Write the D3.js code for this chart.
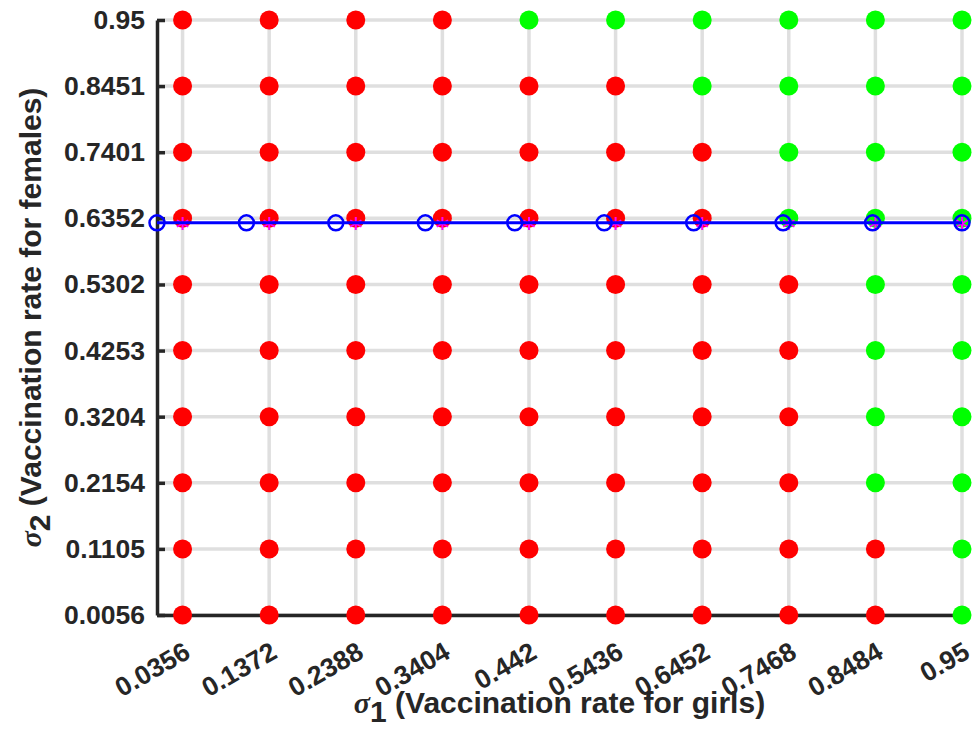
<!DOCTYPE html>
<html>
<head>
<meta charset="utf-8">
<script src="https://cdn.jsdelivr.net/npm/d3@7"></script>
<style>
    body { margin: 0; background: #fff; }
    text { font-family: "Liberation Sans", Arial, sans-serif; font-weight: bold; fill: #262626; }
</style>
</head>
<body>
<script>
//sigma_1 grid values (girls)
var sigma1 = [0.0356, 0.1372, 0.2388, 0.3404, 0.442, 0.5436, 0.6452, 0.7468, 0.8484, 0.95];

//sigma_2 grid values (females)
var sigma2 = [0.0056, 0.1105, 0.2154, 0.3204, 0.4253, 0.5302, 0.6352, 0.7401, 0.8451, 0.95];

//outcome per grid point, one row per sigma2 value (bottom to top), 1 = green, 0 = red
var outcome = [
    [0, 0, 0, 0, 0, 0, 0, 0, 0, 1],
    [0, 0, 0, 0, 0, 0, 0, 0, 0, 1],
    [0, 0, 0, 0, 0, 0, 0, 0, 1, 1],
    [0, 0, 0, 0, 0, 0, 0, 0, 1, 1],
    [0, 0, 0, 0, 0, 0, 0, 0, 1, 1],
    [0, 0, 0, 0, 0, 0, 0, 0, 1, 1],
    [0, 0, 0, 0, 0, 0, 0, 1, 1, 1],
    [0, 0, 0, 0, 0, 0, 0, 1, 1, 1],
    [0, 0, 0, 0, 0, 0, 1, 1, 1, 1],
    [0, 0, 0, 0, 1, 1, 1, 1, 1, 1]
];

//threshold curve (blue line with circles)
var curveX = [0.0056, 0.1105, 0.2154, 0.3204, 0.4253, 0.5302, 0.6352, 0.7401, 0.8451, 0.95];
var curveY = [0.628, 0.628, 0.628, 0.628, 0.628, 0.628, 0.628, 0.628, 0.628, 0.628];

//asterisk markers
var starX = sigma1;
var starY = [0.627, 0.627, 0.627, 0.627, 0.627, 0.627, 0.627, 0.627, 0.627, 0.627];

window.onload = function(){

    var w = 975, h = 751;
    var margin = {left: 157, top: 20, right: 13, bottom: 136};

    var svg = d3.select("body")
        .append("svg")
        .attr("width", w)
        .attr("height", h);

    //scales
    var x = d3.scaleLinear()
        .domain([0.0056, 0.95])
        .range([margin.left, w - margin.right]);

    var y = d3.scaleLinear()
        .domain([0.0056, 0.95])
        .range([h - margin.bottom, margin.top]);

    //grid lines
    svg.append("g")
        .selectAll("line")
        .data(sigma1)
        .enter()
        .append("line")
        .attr("x1", function(d){ return x(d); })
        .attr("x2", function(d){ return x(d); })
        .attr("y1", y(0.0056))
        .attr("y2", y(0.95))
        .style("stroke", "#dfdfdf")
        .style("stroke-width", 3.5);

    svg.append("g")
        .selectAll("line")
        .data(sigma2)
        .enter()
        .append("line")
        .attr("y1", function(d){ return y(d); })
        .attr("y2", function(d){ return y(d); })
        .attr("x1", x(0.0056))
        .attr("x2", x(0.95))
        .style("stroke", "#dfdfdf")
        .style("stroke-width", 3.5);

    //x axis
    var xAxis = d3.axisBottom(x)
        .tickValues(sigma1)
        .tickSizeInner(-8)
        .tickSizeOuter(0)
        .tickFormat(function(d){ return String(d); });

    var gx = svg.append("g")
        .attr("transform", "translate(0," + y(0.0056) + ")")
        .call(xAxis);

    gx.selectAll("text")
        .attr("font-size", 26.5)
        .attr("text-anchor", "end")
        .attr("dy", null)
        .attr("y", 0)
        .attr("transform", "translate(9,42) rotate(-30)");

    //y axis
    var yAxis = d3.axisLeft(y)
        .tickValues(sigma2)
        .tickSizeInner(-8)
        .tickSizeOuter(0)
        .tickFormat(function(d){ return String(d); });

    var gy = svg.append("g")
        .attr("transform", "translate(" + x(0.0056) + ",0)")
        .call(yAxis);

    gy.selectAll("text")
        .attr("font-size", 26.5)
        .attr("x", -12);

    svg.selectAll(".domain")
        .style("stroke", "#262626")
        .style("stroke-width", 3.5);
    svg.selectAll(".tick line")
        .style("stroke", "#262626")
        .style("stroke-width", 3.5);
    svg.selectAll(".tick text")
        .style("fill", "#262626");

    //grid points
    var points = [];
    outcome.forEach(function(row, j){
        row.forEach(function(v, i){
            points.push({sx: sigma1[i], sy: sigma2[j], ok: v});
        });
    });

    svg.append("g")
        .selectAll("circle")
        .data(points)
        .enter()
        .append("circle")
        .attr("cx", function(d){ return x(d.sx); })
        .attr("cy", function(d){ return y(d.sy); })
        .attr("r", 9.5)
        .style("fill", function(d){ return d.ok ? "#00ff00" : "#ff0000"; });

    //asterisks
    var stars = svg.append("g")
        .selectAll("g")
        .data(starX)
        .enter()
        .append("g")
        .attr("transform", function(d, i){
            return "translate(" + x(d) + "," + y(starY[i]) + ")";
        });

    [0, 60, 120].forEach(function(a){
        stars.append("line")
            .attr("x1", 0).attr("x2", 0)
            .attr("y1", -6.5).attr("y2", 6.5)
            .attr("transform", "rotate(" + a + ")")
            .style("stroke", "#ff00ff")
            .style("stroke-width", 2);
    });

    //threshold curve
    var curve = curveX.map(function(d, i){ return [d, curveY[i]]; });

    var line = d3.line()
        .x(function(d){ return x(d[0]); })
        .y(function(d){ return y(d[1]); });

    svg.append("path")
        .datum(curve)
        .attr("d", line)
        .style("fill", "none")
        .style("stroke", "#0000ff")
        .style("stroke-width", 3);

    svg.append("g")
        .selectAll("circle")
        .data(curve)
        .enter()
        .append("circle")
        .attr("cx", function(d){ return x(d[0]); })
        .attr("cy", function(d){ return y(d[1]); })
        .attr("r", 7.5)
        .style("fill", "none")
        .style("stroke", "#0000ff")
        .style("stroke-width", 2.5);

    //x axis label
    var xl = svg.append("text")
        .attr("x", (x.range()[0] + x.range()[1]) / 2)
        .attr("y", 713)
        .attr("text-anchor", "middle")
        .attr("font-size", 30);
    xl.append("tspan")
        .style("font-family", "'Liberation Serif', serif")
        .style("font-style", "italic")
        .text("σ");
    xl.append("tspan")
        .attr("dy", 9)
        .text("1");
    xl.append("tspan")
        .attr("dy", -9)
        .text(" (Vaccination rate for girls)");

    //y axis label
    var yl = svg.append("text")
        .attr("transform", "translate(41," + (y.range()[0] + y.range()[1]) / 2 + ") rotate(-90)")
        .attr("text-anchor", "middle")
        .attr("font-size", 30);
    yl.append("tspan")
        .style("font-family", "'Liberation Serif', serif")
        .style("font-style", "italic")
        .text("σ");
    yl.append("tspan")
        .attr("dy", 9)
        .text("2");
    yl.append("tspan")
        .attr("dy", -9)
        .text(" (Vaccination rate for females)");

};
</script>
</body>
</html>
